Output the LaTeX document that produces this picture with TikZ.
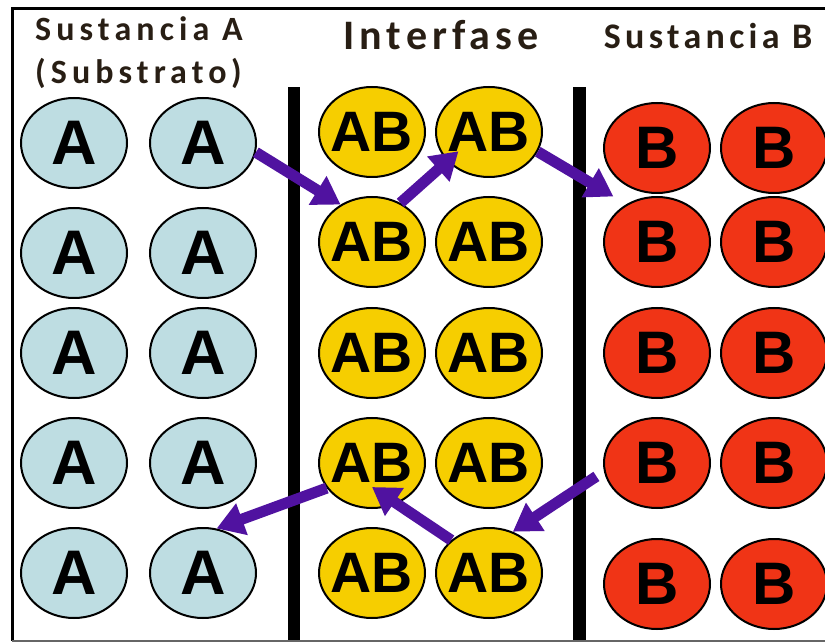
\documentclass[tikz,border=0pt]{standalone}
\usepackage{fontspec}
\usepackage{tikz}
\usetikzlibrary{arrows.meta,shapes.geometric}
\newfontfamily\titlefont[LetterSpace=12]{Carlito}
\newfontfamily\titlefontwide[LetterSpace=15]{Carlito}
\newfontfamily\letterfont{Liberation Sans}
\definecolor{titlec}{RGB}{40,30,20}
\definecolor{ablue}{RGB}{190,221,226}
\definecolor{abgold}{RGB}{246,206,0}
\definecolor{bred}{RGB}{240,52,22}
\definecolor{arrowc}{RGB}{80,18,160}
\tikzset{
  blob/.style={ellipse,draw=black,line width=2pt,minimum width=106pt,minimum height=90pt,inner sep=0pt},
  title/.style={inner sep=0pt,text=titlec},
  atext/.style={inner sep=0pt,font=\letterfont\bfseries\fontsize{63}{63}\selectfont},
  abtext/.style={inner sep=0pt,font=\letterfont\bfseries\fontsize{57}{57}\selectfont},
  btext/.style={inner sep=0pt,font=\letterfont\bfseries\fontsize{60}{60}\selectfont},
  flow/.style={-{Triangle[length=27pt,width=32pt]},line width=11pt,draw=arrowc}
}
\begin{document}
\begin{tikzpicture}[x=1pt,y=-1pt,>=Stealth]
\useasboundingbox (0,0) rectangle (825,644);
% frame
\draw[line width=3pt] (825,9) -- (12,9) -- (12,641);
\draw[line width=2pt,black!60] (12,641) -- (825,641);
% walls
\fill (288,87) rectangle (300,640);
\fill (573,87) rectangle (586,640);
% titles
\node[title,align=left,anchor=north west,font=\titlefontwide\bfseries\fontsize{34}{43}\selectfont] (tita) at (35,16) {Sustancia A\\(Substrato)};
\node[title,anchor=base,font=\titlefont\bfseries\fontsize{42}{42}\selectfont] (titi) at (441,50) {Interfase};
\node[title,anchor=base,font=\titlefont\bfseries\fontsize{36}{36}\selectfont] (titb) at (708,49) {Sustancia B};
% molecules
\foreach \r/\ya/\yab/\yb in {1/143/132/148,2/253/242/242,3/353/353/353,4/463/463/463,5/573/573/584}{
  \node[blob,fill=ablue,label={[atext]center:A}] (a\r1) at (74,\ya) {};
  \node[blob,fill=ablue,label={[atext]center:A}] (a\r2) at (203,\ya) {};
  \node[blob,fill=abgold,label={[abtext]center:AB}] (ab\r1) at (372,\yab) {};
  \node[blob,fill=abgold,label={[abtext]center:AB}] (ab\r2) at (489,\yab) {};
  \node[blob,fill=bred,label={[btext]center:B}] (b\r1) at (657,\yb) {};
  \node[blob,fill=bred,label={[btext]center:B}] (b\r2) at (774,\yb) {};
}
% transfer
\draw[flow] (a12.-10) -- (ab21.130);
\draw[flow,shorten >=-15pt] (ab21.54) -- (ab12.215);
\draw[flow,shorten >=15pt] (ab12.-22) -- (b21.129);
\draw[flow,shorten <=9pt] (b41.189) -- (ab52.60);
\draw[flow] (ab52.139) -- ([yshift=22pt]ab41.south);
\draw[flow] (ab41.209) -- (a52.73);
\end{tikzpicture}
\end{document}
